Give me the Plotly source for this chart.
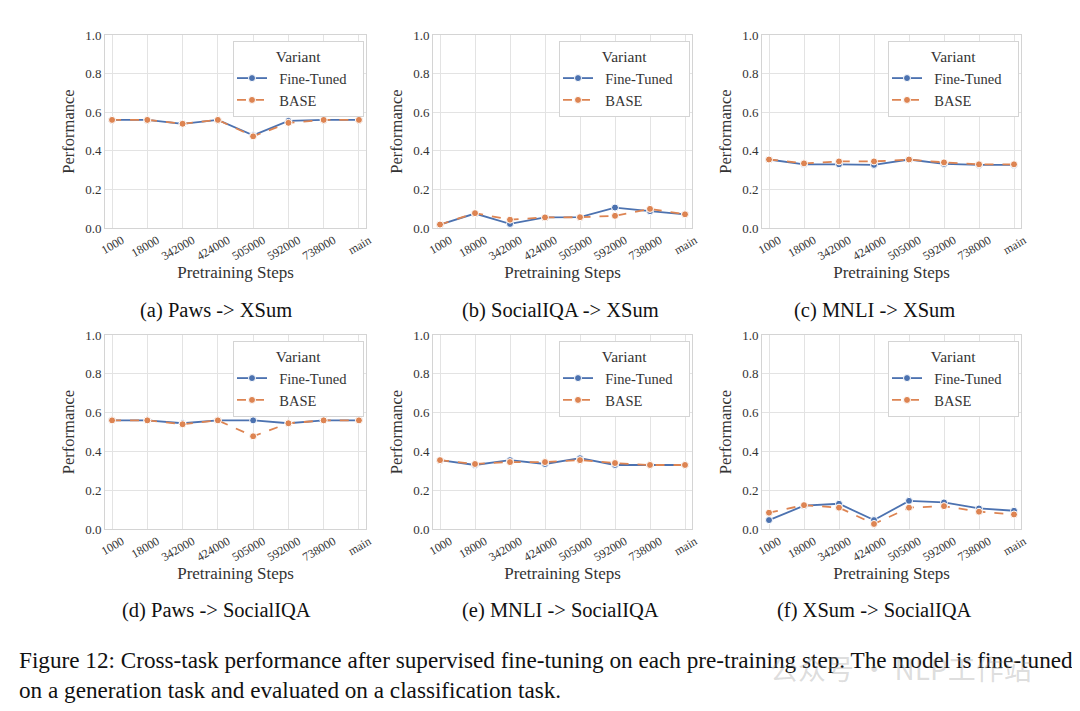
import plotly.graph_objects as go
from plotly.subplots import make_subplots

# Pretraining steps (x axis categories)
steps = ["1000", "18000", "342000", "424000", "505000", "592000", "738000", "main"]

# values, one list per panel and variant
paws_xsum_ft = [0.56, 0.56, 0.54, 0.56, 0.48, 0.555, 0.56, 0.56]
paws_xsum_base = [0.56, 0.56, 0.54, 0.56, 0.475, 0.545, 0.56, 0.56]

siqa_xsum_ft = [0.018, 0.075, 0.021, 0.055, 0.056, 0.106, 0.087, 0.071]
siqa_xsum_base = [0.018, 0.077, 0.043, 0.055, 0.056, 0.063, 0.099, 0.071]

mnli_xsum_ft = [0.355, 0.33, 0.33, 0.327, 0.355, 0.332, 0.327, 0.327]
mnli_xsum_base = [0.355, 0.335, 0.345, 0.345, 0.355, 0.34, 0.33, 0.33]

paws_siqa_ft = [0.56, 0.56, 0.545, 0.56, 0.56, 0.545, 0.56, 0.56]
paws_siqa_base = [0.56, 0.56, 0.54, 0.56, 0.478, 0.545, 0.56, 0.56]

mnli_siqa_ft = [0.355, 0.33, 0.355, 0.335, 0.365, 0.33, 0.33, 0.33]
mnli_siqa_base = [0.355, 0.335, 0.345, 0.345, 0.355, 0.34, 0.33, 0.33]

xsum_siqa_ft = [0.046, 0.12, 0.13, 0.046, 0.145, 0.137, 0.106, 0.094]
xsum_siqa_base = [0.084, 0.123, 0.11, 0.026, 0.11, 0.118, 0.089, 0.075]

panel_titles = [
    "(a) Paws -> XSum", "(b) SocialIQA -> XSum", "(c) MNLI -> XSum",
    "(d) Paws -> SocialIQA", "(e) MNLI -> SocialIQA", "(f) XSum -> SocialIQA",
]
panels = [
    (paws_xsum_ft, paws_xsum_base),
    (siqa_xsum_ft, siqa_xsum_base),
    (mnli_xsum_ft, mnli_xsum_base),
    (paws_siqa_ft, paws_siqa_base),
    (mnli_siqa_ft, mnli_siqa_base),
    (xsum_siqa_ft, xsum_siqa_base),
]

BLUE = "#4c72b0"
ORANGE = "#dd8452"
SERIF = "Liberation Serif"
W, H = 1080, 711
OFF = 8  # page body margin in the browser
NB = "\u00a0"


def px(x):
    return (x - OFF) / W


def py(y):
    return 1 - (y - OFF) / H


fig = make_subplots(rows=2, cols=3)

# pixel boxes of the plot areas (left, right) and (top, bottom)
x_boxes = [(105, 366), (433, 692), (762, 1021)]
y_boxes = [(35, 228), (335, 529)]
caption_x = [216, 560, 874]

for i, (ft, base) in enumerate(panels):
    r, c = i // 3, i % 3
    leg = "legend" if i == 0 else "legend%d" % (i + 1)
    fig.add_trace(go.Scatter(
        x=steps, y=ft, name=NB * 2 + "Fine-Tuned" + NB * 3, mode="lines+markers",
        line=dict(color=BLUE, width=1.8),
        marker=dict(size=7, color=BLUE, line=dict(color="white", width=1)),
        legend=leg,
    ), row=r + 1, col=c + 1)
    fig.add_trace(go.Scatter(
        x=steps, y=base, name=NB * 2 + "BASE", mode="lines+markers",
        line=dict(color=ORANGE, width=1.8, dash="dash"),
        marker=dict(size=7, color=ORANGE, line=dict(color="white", width=1)),
        legend=leg,
    ), row=r + 1, col=c + 1)

    xl, xr = x_boxes[c]
    yt, yb = y_boxes[r]
    sfx = "" if i == 0 else str(i + 1)
    fig.layout["xaxis" + sfx].update(
        domain=[px(xl), px(xr)], type="category", range=[-0.2, 7.2],
        tickangle=-30, ticklabelshift=10, ticks="", showgrid=True,
        gridcolor="#e3e3e3", showline=True, linecolor="#d4d4d4", mirror=True,
        tickfont=dict(family=SERIF, size=12, color="#333"),
        title=dict(text="Pretraining Steps", standoff=0,
                   font=dict(family=SERIF, size=17, color="#333")),
        zeroline=False, automargin=False,
    )
    fig.layout["yaxis" + sfx].update(
        domain=[py(yb), py(yt)], range=[0, 1], dtick=0.2,
        tickformat=".1f", ticks="", showgrid=True, gridcolor="#e3e3e3",
        showline=True, linecolor="#d4d4d4", mirror=True, zeroline=False,
        tickfont=dict(family=SERIF, size=13, color="#333"),
        title=dict(text="Performance", standoff=6,
                   font=dict(family=SERIF, size=16.5, color="#333")),
        automargin=False,
    )

    # legend in upper right corner of each panel
    fig.layout[leg] = dict(
        title=dict(text="Variant", side="top center",
                   font=dict(family=SERIF, size=15.5, color="#333")),
        x=px(xr - 2), y=py(yt + 6), xanchor="right", yanchor="top",
        bgcolor="white", bordercolor="#d4d4d4", borderwidth=1,
        font=dict(family=SERIF, size=14.5, color="#333"),
        itemwidth=30, tracegroupgap=0, indentation=-2,
    )

    # sub-caption below each panel
    fig.add_annotation(
        text=panel_titles[i], xref="paper", yref="paper",
        x=px(caption_x[c]), y=py(yt + 275), xanchor="center", yanchor="middle",
        showarrow=False, font=dict(family=SERIF, size=20.5, color="#111"),
    )

fig.add_annotation(
    text="Figure 12: Cross-task performance after supervised fine-tuning on each pre-training step. "
         "The model is fine-tuned<br>on a generation task and evaluated on a classification task.",
    xref="paper", yref="paper", x=px(17), y=py(645), xanchor="left", yanchor="top",
    align="left", showarrow=False, font=dict(family=SERIF, size=23.2, color="#111"),
)

# faint watermark
fig.add_annotation(
    text="公众号 · NLP工作站", xref="paper", yref="paper", x=px(768), y=py(668),
    xanchor="left", yanchor="middle", showarrow=False,
    font=dict(family="Noto Sans CJK SC", size=28, color="rgba(150,150,150,0.33)"),
)

fig.update_layout(
    width=W, height=H, margin=dict(l=0, r=0, t=0, b=0),
    paper_bgcolor="white", plot_bgcolor="white",
)

fig.write_html("out.html")
